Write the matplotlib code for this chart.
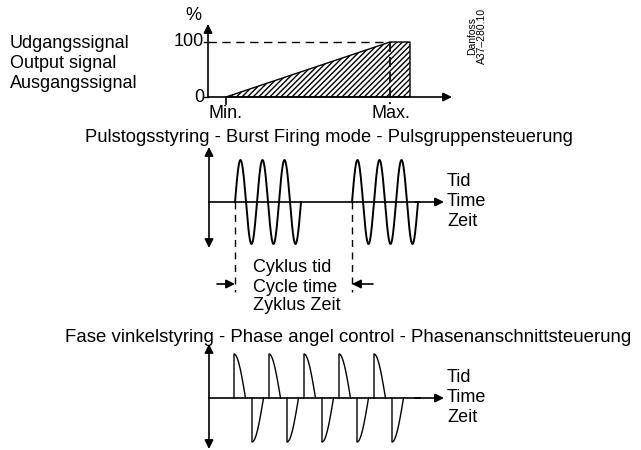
import numpy as np
import matplotlib.pyplot as plt

plt.rcParams['font.family'] = ['Liberation Sans', 'DejaVu Sans']

# labels
sig_labels = ["Udgangssignal", "Output signal", "Ausgangssignal"]
time_labels = ["Tid", "Time", "Zeit"]
cycle_labels = ["Cyklus tid", "Cycle time", "Zyklus Zeit"]
title_burst = "Pulstogsstyring - Burst Firing mode - Pulsgruppensteuerung"
title_phase = "Fase vinkelstyring - Phase angel control - Phasenanschnittsteuerung"

# top chart: output signal vs setting (pixel coords)
ramp_x = [226, 390, 410, 410]
ramp_y = [97, 42, 42, 97]

# burst firing
burst_starts = [235, 352]
burst_cycles = 3
burst_period = 22
burst_amp = 42

# phase angle control
phase_fire = [234, 269, 304, 339, 374]
phase_half = 18
phase_len = 11.5

fig = plt.figure(figsize=(6.41, 4.5), dpi=100)
ax = fig.add_axes([0, 0, 1, 1])
ax.set_xlim(0, 641)
ax.set_ylim(450, 0)
ax.axis('off')

def arrow(x0, y0, x1, y1, style='-|>'):
    ax.annotate('', xy=(x1, y1), xytext=(x0, y0),
                arrowprops=dict(arrowstyle=style, lw=1.2, color='k',
                                mutation_scale=13, shrinkA=0, shrinkB=0))

fs = 13
# ---- top chart
for i, t in enumerate(sig_labels):
    ax.text(10, 43 + i * 20, t, fontsize=fs, va='center', ha='left')
ax.text(193, 15, "%", fontsize=fs, ha='center', va='center')
ax.text(204, 42, "100", fontsize=fs, ha='right', va='center')
ax.text(204, 97, "0", fontsize=fs, ha='right', va='center')
ax.plot([204, 208], [42, 42], color='k', lw=1)
ax.plot([204, 208], [97, 97], color='k', lw=1)
arrow(208, 97, 208, 24)
arrow(208, 97, 452, 97)
ax.fill(ramp_x, ramp_y, facecolor='white', edgecolor='k', hatch='//////', lw=1)
ax.plot([208, 390], [42, 42], color='k', lw=1, dashes=(6, 4))
ax.plot([390, 390], [42, 104], color='k', lw=1.2, dashes=(6, 3))
ax.plot([226, 226], [97, 104], color='k', lw=1.2)
ax.text(226, 113, "Min.", fontsize=fs, ha='center', va='center')
ax.text(391, 113, "Max.", fontsize=fs, ha='center', va='center')
ax.text(477, 36, "Danfoss\nA37\u2013280.10", fontsize=7.5, rotation=90,
        ha='center', va='center', linespacing=1.0)

# ---- burst firing
ax.text(329, 137, title_burst, fontsize=13.2, ha='center', va='center')
arrow(209, 202, 209, 147)
arrow(209, 202, 209, 248)
ax.plot([209, 420], [202, 202], color='k', lw=1.2)
arrow(415, 202, 444, 202)
for s in burst_starts:
    xx = np.linspace(s, s + burst_cycles * burst_period, 300)
    yy = 202 - burst_amp * np.sin(2 * np.pi * (xx - s) / burst_period)
    ax.plot(xx, yy, color='k', lw=1.4)
    ax.plot([s, s], [202, 292], color='k', lw=1, dashes=(5, 4))
for i, t in enumerate(time_labels):
    ax.text(447, 182 + i * 19.5, t, fontsize=fs, ha='left', va='center')
arrow(217, 284, 235, 284)
arrow(373, 284, 352, 284)
for i, t in enumerate(cycle_labels):
    ax.text(253, 268 + i * 19, t, fontsize=fs, ha='left', va='center')

# ---- phase angle control
ax.text(348, 338, title_phase, fontsize=13.4, ha='center', va='center')
arrow(209, 398, 209, 344)
arrow(209, 398, 209, 449)
ax.plot([209, 420], [398, 398], color='k', lw=1.2)
arrow(415, 398, 444, 398)
for f in phase_fire:
    for sgn, x0 in [(1, f), (-1, f + phase_half)]:
        xx = np.linspace(x0, x0 + phase_len, 60)
        ang = np.pi / 2 + (xx - x0) / phase_len * np.pi / 2
        yy = 398 - sgn * 44 * np.sin(ang)
        ax.plot(np.r_[x0, xx], np.r_[398, yy], color='k', lw=1)
for i, t in enumerate(time_labels):
    ax.text(447, 378 + i * 19.5, t, fontsize=fs, ha='left', va='center')

fig.savefig("out.png", dpi=100)
